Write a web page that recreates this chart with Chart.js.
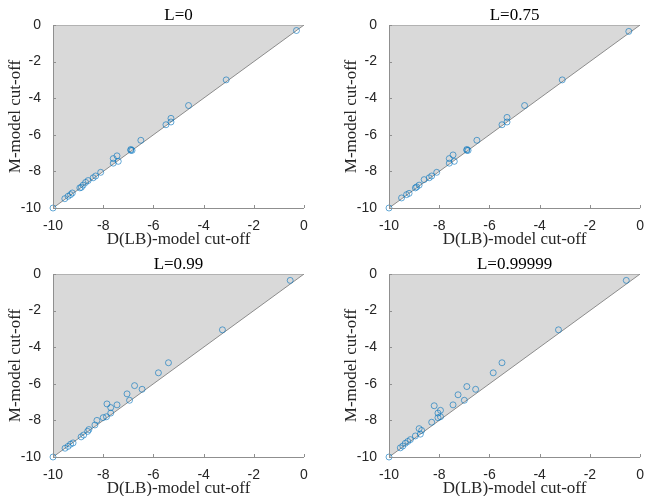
<!DOCTYPE html>
<html>
<head>
<meta charset="utf-8">
<script src="https://cdn.jsdelivr.net/npm/chart.js@4"></script>
<style>
  html, body { margin: 0; padding: 0; background: #fff; }
  #wrap { position: relative; width: 646px; height: 496px; overflow: hidden; }
  canvas { position: absolute; }
</style>
</head>
<body>
<div id="wrap">
  <canvas id="c0" width="323" height="248" style="left:0;top:0"></canvas>
  <canvas id="c1" width="310" height="248" style="left:336px;top:0"></canvas>
  <canvas id="c2" width="323" height="247" style="left:0;top:249px"></canvas>
  <canvas id="c3" width="310" height="247" style="left:336px;top:249px"></canvas>
</div>
<script>
// paneelien otsikot ja akselit
const titles = ["L=0", "L=0.75", "L=0.99", "L=0.99999"];
const tickValues = [-10, -8, -6, -4, -2, 0];
const xLabel = "D(LB)-model cut-off";
const yLabel = "M-model cut-off";

// L=0
const lb0 = [-0.3, -3.1, -4.6, -5.3, -5.3, -5.5, -6.5, -6.9, -6.85, -6.9, -7.45, -7.6, -7.6, -7.4, -8.1, -8.3, -8.4, -8.6, -8.7, -8.8, -8.87, -8.93, -9.23, -9.3, -9.4, -9.53, -10];
const m0 = [-0.3, -3.0, -4.4, -5.1, -5.3, -5.45, -6.3, -6.8, -6.85, -6.85, -7.15, -7.3, -7.55, -7.45, -8.05, -8.25, -8.35, -8.5, -8.6, -8.75, -8.87, -8.9, -9.18, -9.27, -9.36, -9.49, -10];

// L=0.75
const lb1 = [-0.45, -3.1, -4.6, -5.3, -5.3, -5.5, -6.5, -6.9, -6.85, -6.9, -7.45, -7.6, -7.6, -7.4, -8.1, -8.3, -8.4, -8.6, -8.8, -8.9, -8.95, -9.2, -9.3, -9.5, -10];
const m1 = [-0.35, -3.0, -4.4, -5.05, -5.3, -5.45, -6.3, -6.8, -6.85, -6.85, -7.1, -7.3, -7.55, -7.45, -8.05, -8.25, -8.35, -8.45, -8.75, -8.85, -8.9, -9.2, -9.27, -9.45, -10];

// L=0.99
const lb2 = [-0.55, -3.25, -5.4, -5.8, -6.75, -6.45, -7.05, -6.95, -7.45, -7.85, -7.7, -7.7, -7.87, -8.0, -8.25, -8.33, -8.57, -8.62, -8.78, -8.88, -9.2, -9.3, -9.4, -9.52, -10];
const m2 = [-0.35, -3.05, -4.85, -5.4, -6.1, -6.3, -6.55, -6.9, -7.15, -7.1, -7.3, -7.6, -7.8, -7.85, -8.0, -8.25, -8.5, -8.6, -8.8, -8.9, -9.23, -9.3, -9.42, -9.52, -10];

// L=0.99999
const lb3 = [-0.55, -3.25, -5.5, -5.85, -6.9, -6.55, -7.25, -7.0, -7.45, -8.2, -7.95, -8.05, -7.95, -8.05, -8.3, -8.8, -8.7, -8.75, -8.95, -9.15, -9.25, -9.35, -9.45, -9.55, -10];
const m3 = [-0.35, -3.05, -4.85, -5.4, -6.15, -6.3, -6.6, -6.9, -7.15, -7.2, -7.45, -7.6, -7.8, -7.85, -8.1, -8.45, -8.55, -8.75, -8.85, -9.05, -9.15, -9.25, -9.4, -9.5, -10];

// harmaa kolmio diagonaalin yläpuolella
const triangleX = [-10, 0, -10];
const triangleY = [-10, 0, 0];

const panels = [
  { id: "c0", lb: lb0, m: m0, padRight: 19 },
  { id: "c1", lb: lb1, m: m1, padRight: 5 },
  { id: "c2", lb: lb2, m: m2, padRight: 19 },
  { id: "c3", lb: lb3, m: m3, padRight: 5 },
];

const serif = "'Liberation Serif', 'DejaVu Serif', serif";
const sans = "'Liberation Sans', Arial, sans-serif";

// Akselit, sisäänpäin osoittavat tikit ja tekstit piirretään itse
const decorPlugin = {
  id: "decor",
  afterDatasetsDraw(chart, args, opts) {
    const { ctx, chartArea: a, scales } = chart;
    ctx.save();
    ctx.strokeStyle = "#8f8f8f";
    ctx.lineWidth = 1;
    ctx.beginPath();
    ctx.moveTo(Math.round(a.left) + 0.5, a.top);
    ctx.lineTo(Math.round(a.left) + 0.5, Math.round(a.bottom) + 0.5);
    ctx.lineTo(a.right, Math.round(a.bottom) + 0.5);
    tickValues.forEach((v) => {
      const px = Math.round(scales.x.getPixelForValue(v)) + 0.5;
      ctx.moveTo(px, a.bottom);
      ctx.lineTo(px, a.bottom - 3);
      const py = Math.round(scales.y.getPixelForValue(v)) + 0.5;
      ctx.moveTo(a.left, py);
      ctx.lineTo(a.left + 3, py);
    });
    ctx.stroke();

    ctx.fillStyle = "#000";
    ctx.font = "17px " + serif;
    ctx.textAlign = "center";
    ctx.textBaseline = "middle";
    const cx = (a.left + a.right) / 2;
    ctx.fillText(opts.title, cx, a.top - 9);
    ctx.fillStyle = "#262626";
    ctx.fillText(xLabel, cx, a.bottom + 32);
    ctx.translate(16, (a.top + a.bottom) / 2);
    ctx.rotate(-Math.PI / 2);
    ctx.fillText(yLabel, 0, 0);
    ctx.restore();
  },
};

panels.forEach((p, i) => {
  const canvas = document.getElementById(p.id);
  const h = canvas.height;
  const points = p.lb.map((x, k) => ({ x, y: p.m[k] }));
  const tri = triangleX.map((x, k) => ({ x, y: triangleY[k] }));

  new Chart(canvas, {
    type: "scatter",
    data: {
      datasets: [
        {
          type: "line",
          data: tri,
          fill: "shape",
          backgroundColor: "#d9d9d9",
          borderColor: "#8c8c8c",
          borderWidth: 1,
          pointRadius: 0,
          tension: 0,
          order: 2,
        },
        {
          data: points,
          pointStyle: "circle",
          pointRadius: 3,
          pointBorderWidth: 1,
          pointBackgroundColor: "rgba(0,0,0,0)",
          pointBorderColor: "rgba(0,114,189,0.6)",
          clip: false,
          order: 1,
        },
      ],
    },
    plugins: [decorPlugin],
    options: {
      responsive: false,
      animation: false,
      layout: { padding: { top: 25, right: p.padRight, left: 0, bottom: 0 } },
      plugins: {
        legend: { display: false },
        tooltip: { enabled: false },
        decor: { title: titles[i] },
      },
      scales: {
        x: {
          type: "linear",
          min: -10,
          max: 0,
          afterBuildTicks: (s) => { s.ticks = tickValues.map((v) => ({ value: v })); },
          afterFit: (s) => { s.height = h - 208; },
          grid: { display: false },
          border: { display: false },
          ticks: { font: { family: sans, size: 14 }, color: "#262626", padding: 2, maxRotation: 0 },
        },
        y: {
          type: "linear",
          min: -10,
          max: 0,
          afterBuildTicks: (s) => { s.ticks = tickValues.map((v) => ({ value: v })); },
          afterFit: (s) => { s.width = 53; },
          grid: { display: false },
          border: { display: false },
          ticks: { font: { family: sans, size: 14 }, color: "#262626", padding: 4 },
        },
      },
    },
  });
});
</script>
</body>
</html>
